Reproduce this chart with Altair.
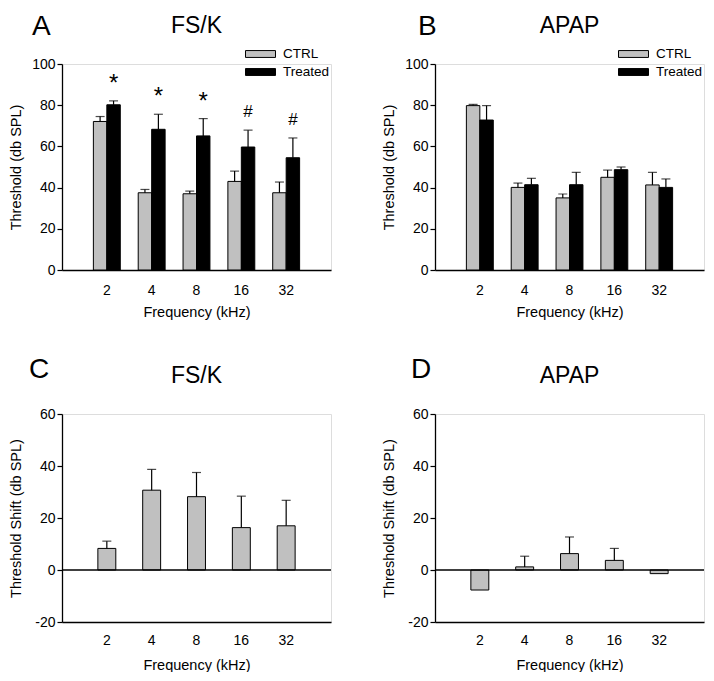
import altair as alt
import pandas as pd

freqs = ["2", "4", "8", "16", "32"]
groups = ["CTRL", "Treated"]

# Panel A: FS/K thresholds
fsk_ctrl = [72.1, 37.5, 37.0, 43.0, 37.5]
fsk_ctrl_err = [2.4, 1.6, 1.3, 5.0, 5.2]
fsk_treated = [80.2, 68.3, 65.1, 59.7, 54.5]
fsk_treated_err = [1.9, 7.3, 8.4, 8.2, 9.6]
fsk_sig = ["*", "*", "*", "#", "#"]

# Panel B: APAP thresholds
apap_ctrl = [79.8, 40.1, 35.0, 45.0, 41.3]
apap_ctrl_err = [0.6, 2.1, 1.9, 3.5, 6.1]
apap_treated = [72.8, 41.4, 41.4, 48.7, 40.1]
apap_treated_err = [7.0, 3.1, 6.0, 1.3, 4.1]

# Panels C, D: threshold shifts
fsk_shift = [8.3, 30.7, 28.2, 16.3, 17.0]
fsk_shift_err = [2.8, 8.0, 9.3, 12.1, 9.8]
apap_shift = [-7.7, 1.2, 6.3, 3.7, -1.4]
apap_shift_err = [0, 4.1, 6.4, 4.6, 0]

FONT = "Liberation Sans"
W = 269
H1 = 206
H2 = 208
GREY = "#c0c0c0"
AX = dict(labelFont=FONT, titleFont=FONT, labelFontSize=14, titleFontSize=14.5,
          titleFontWeight="normal", labelColor="black", titleColor="black",
          domainColor="black", domainWidth=1.3, tickColor="black", tickWidth=1.2,
          grid=False)
LABEL_EXPR = "datum.value < 0 ? '-' + abs(datum.value) : '' + datum.value"


def thresh_df(ctrl, cerr, trt, terr):
    rows = []
    for i, f in enumerate(freqs):
        rows.append(dict(freq=f, group="CTRL", value=ctrl[i], top=ctrl[i] + cerr[i]))
        rows.append(dict(freq=f, group="Treated", value=trt[i], top=trt[i] + terr[i]))
    return pd.DataFrame(rows)


def heading(letter, title, letter_x, letter_y, width):
    lt = alt.Chart(pd.DataFrame({"t": [letter]})).mark_text(
        fontSize=28, align="left", baseline="top", color="black", font=FONT
    ).encode(x=alt.value(letter_x), y=alt.value(letter_y), text="t:N")
    tt = alt.Chart(pd.DataFrame({"t": [title]})).mark_text(
        fontSize=23, align="center", baseline="alphabetic", color="black", font=FONT
    ).encode(x=alt.value(width / 2), y=alt.value(-31), text="t:N")
    return lt, tt


def x_enc(pi, po, lp, tp):
    return alt.X(
        "freq:N", sort=freqs,
        scale=alt.Scale(paddingInner=pi, paddingOuter=po),
        axis=alt.Axis(title="Frequency (kHz)", labelAngle=0, ticks=False, tickSize=0,
                      labelPadding=lp, titlePadding=tp, **AX),
    )


def threshold_panel(df, letter, title, letter_x, sig=None):
    xe = x_enc(0.4, 0.7, 13, 8)
    xo = alt.XOffset("group:N", sort=groups)
    ysc = alt.Scale(domain=[0, 100], nice=False, zero=True)
    yax = alt.Axis(title="Threshold (db SPL)", values=[0, 20, 40, 60, 80, 100],
                   tickSize=5, labelPadding=2, titlePadding=8, **AX)
    color = alt.Color(
        "group:N", sort=groups,
        scale=alt.Scale(domain=groups, range=[GREY, "#000000"]),
        legend=alt.Legend(title=None, orient="none", legendX=183, legendY=-17,
                          symbolType="M-1,-0.23H1V0.23H-1Z", symbolSize=900,
                          symbolStrokeColor="black", symbolStrokeWidth=1,
                          labelFont=FONT, labelColor="black",
                          labelFontSize=13.5, labelOffset=7, rowPadding=4, clipHeight=14),
    )
    base = alt.Chart(df)
    bars = base.mark_bar(stroke="black", strokeWidth=1).encode(
        x=xe, xOffset=xo, y=alt.Y("value:Q", scale=ysc, axis=yax), color=color
    )
    err = base.mark_rule(color="black", strokeWidth=1.2).encode(
        x=xe, xOffset=xo, y="value:Q", y2="top:Q"
    )
    caps = base.mark_tick(color="black", thickness=1.2, size=9).encode(
        x=xe, xOffset=xo, y="top:Q"
    )
    layers = [bars, err, caps]
    if sig is not None:
        ann = df[df.group == "Treated"].copy()
        ann["sig"] = sig
        star = alt.Chart(ann[ann.sig == "*"]).mark_text(
            fontSize=24, baseline="middle", dy=-17, color="black", font=FONT
        ).encode(x=xe, xOffset=xo, y="top:Q", text="sig:N")
        hsh = alt.Chart(ann[ann.sig == "#"]).mark_text(
            fontSize=17, baseline="middle", dy=-18, color="black", font=FONT
        ).encode(x=xe, xOffset=xo, y="top:Q", text="sig:N")
        layers += [star, hsh]
    lt, tt = heading(letter, title, letter_x, -51, W)
    layers += [lt, tt]
    return alt.layer(*layers).properties(width=W, height=H1)


def shift_panel(vals, errs, letter, title, letter_x):
    df = pd.DataFrame({"freq": freqs, "value": vals,
                       "top": [v + e for v, e in zip(vals, errs)], "err": errs})
    xe = x_enc(0.6, 0.8, 11, 11)
    ysc = alt.Scale(domain=[-20, 60], nice=False, zero=False)
    yax = alt.Axis(title="Threshold Shift (db SPL)", values=[-20, 0, 20, 40, 60],
                   labelExpr=LABEL_EXPR,
                   tickSize=5, labelPadding=2, titlePadding=11, **AX)
    base = alt.Chart(df)
    zero = alt.Chart(pd.DataFrame({"z": [0]})).mark_rule(color="black", strokeWidth=1.3).encode(
        y=alt.Y("z:Q", scale=ysc)
    )
    bars = base.mark_bar(stroke="black", strokeWidth=1, color=GREY).encode(
        x=xe, y=alt.Y("value:Q", scale=ysc, axis=yax)
    )
    eb = base.transform_filter("datum.err > 0")
    err = eb.mark_rule(color="black", strokeWidth=1.2).encode(x=xe, y="value:Q", y2="top:Q")
    caps = eb.mark_tick(color="black", thickness=1.2, size=9).encode(x=xe, y="top:Q")
    lt, tt = heading(letter, title, letter_x, -58, W)
    return alt.layer(bars, zero, err, caps, lt, tt).properties(width=W, height=H2)


A = threshold_panel(thresh_df(fsk_ctrl, fsk_ctrl_err, fsk_treated, fsk_treated_err),
                    "A", "FS/K", -30, fsk_sig)
B = threshold_panel(thresh_df(apap_ctrl, apap_ctrl_err, apap_treated, apap_treated_err),
                    "B", "APAP", -17)
C = shift_panel(fsk_shift, fsk_shift_err, "C", "FS/K", -33)
D = shift_panel(apap_shift, apap_shift_err, "D", "APAP", -24)

chart = alt.concat(
    A, B, C, D, columns=2, spacing={"row": 144, "column": 104}, bounds="flush"
).resolve_scale(color="independent", y="independent", x="independent").resolve_legend(
    color="independent"
).properties(
    padding={"top": 4, "left": 0, "right": 0, "bottom": 0}
).configure_view(stroke=None).configure(font=FONT)

chart.save("out.html", embed_options={"renderer": "svg", "actions": False})
